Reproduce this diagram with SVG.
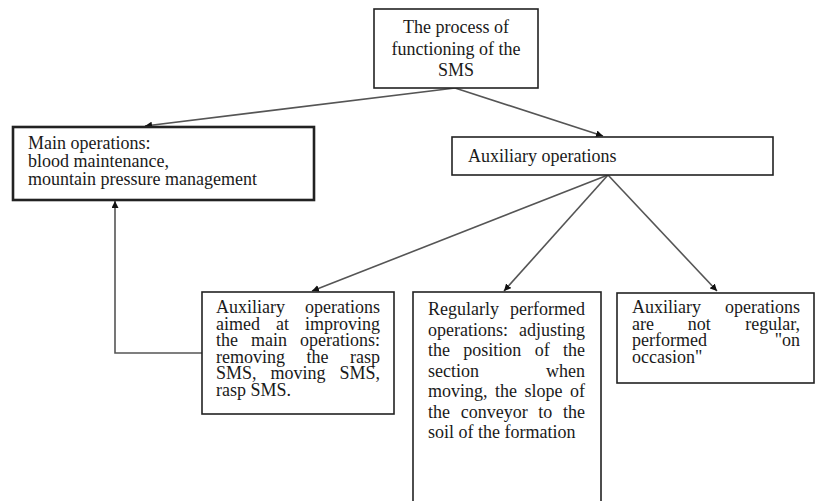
<svg xmlns="http://www.w3.org/2000/svg" width="817" height="501" viewBox="0 0 817 501">
<style>
.box{fill:#fff;stroke:#222;stroke-width:1.6}
.thick{stroke-width:2.6}
text{font-family:"Liberation Serif","Times New Roman",serif;font-size:18px;fill:#1a1a1a}
.c{text-anchor:middle}
.e{text-anchor:end}
.conn{fill:none;stroke:#555;stroke-width:1.6}
</style>
<defs>
<marker id="ah" viewBox="0 0 10 10" refX="10" refY="5" markerWidth="7" markerHeight="7" markerUnits="userSpaceOnUse" orient="auto"><path d="M0,0 L10,5 L0,10 z" fill="#111"/></marker>
</defs>
<g id="connectors">
<line class="conn" x1="455" y1="88" x2="145" y2="126" marker-end="url(#ah)"/>
<line class="conn" x1="455" y1="88" x2="603" y2="136" marker-end="url(#ah)"/>
<line class="conn" x1="608" y1="175" x2="312" y2="291" marker-end="url(#ah)"/>
<line class="conn" x1="608" y1="175" x2="504" y2="291" marker-end="url(#ah)"/>
<line class="conn" x1="608" y1="175" x2="717" y2="291" marker-end="url(#ah)"/>
<polyline class="conn" points="202,353 115,353 115,201" marker-end="url(#ah)"/>
</g>
<g id="top">
<rect class="box" x="374" y="9" width="164" height="79"/>
<text class="c" x="456" y="33">The process of</text>
<text class="c" x="456" y="55">functioning of the</text>
<text class="c" x="456" y="76">SMS</text>
</g>
<g id="main">
<rect class="box thick" x="13" y="127" width="301" height="73"/>
<text x="28" y="149">Main operations:</text>
<text x="28" y="167">blood maintenance,</text>
<text x="28" y="185">mountain pressure management</text>
</g>
<g id="aux">
<rect class="box" x="452" y="137" width="321" height="38"/>
<text x="468" y="162">Auxiliary operations</text>
</g>
<g id="aux-main">
<rect class="box" x="202" y="292" width="192" height="122"/>
<text x="216" y="313">Auxiliary</text><text class="e" x="380" y="313">operations</text>
<text x="216" y="329.5">aimed</text><text x="276" y="329.5">at</text><text class="e" x="380" y="329.5">improving</text>
<text x="216" y="346">the</text><text x="251" y="346">main</text><text class="e" x="380" y="346">operations:</text>
<text x="216" y="362.5">removing</text><text x="306.5" y="362.5">the</text><text class="e" x="380" y="362.5">rasp</text>
<text x="216" y="379">SMS,</text><text x="270.5" y="379">moving</text><text class="e" x="380" y="379">SMS,</text>
<text x="216" y="395.5">rasp SMS.</text>
</g>
<g id="regular">
<rect class="box" x="413" y="292" width="188" height="220"/>
<text x="428" y="315">Regularly</text><text class="e" x="585" y="315">performed</text>
<text x="428" y="335.5">operations:</text><text class="e" x="585" y="335.5">adjusting</text>
<text x="428" y="356">the</text><text x="463.3" y="356">position</text><text x="534.7" y="356">of</text><text class="e" x="585" y="356">the</text>
<text x="428" y="376.5">section</text><text class="e" x="585" y="376.5">when</text>
<text x="428" y="397">moving,</text><text x="495" y="397">the</text><text x="524.5" y="397">slope</text><text class="e" x="585" y="397">of</text>
<text x="428" y="417.5">the</text><text x="460.7" y="417.5">conveyor</text><text x="538.3" y="417.5">to</text><text class="e" x="585" y="417.5">the</text>
<text x="428" y="438">soil of the formation</text>
</g>
<g id="irregular">
<rect class="box" x="617" y="293" width="197" height="90"/>
<text x="632" y="313">Auxiliary</text><text class="e" x="800" y="313">operations</text>
<text x="632" y="329.5">are</text><text x="687.8" y="329.5">not</text><text class="e" x="800" y="329.5">regular,</text>
<text x="632" y="346">performed</text><text class="e" x="800" y="346">"on</text>
<text x="632" y="362.5">occasion"</text>
</g>
</svg>
